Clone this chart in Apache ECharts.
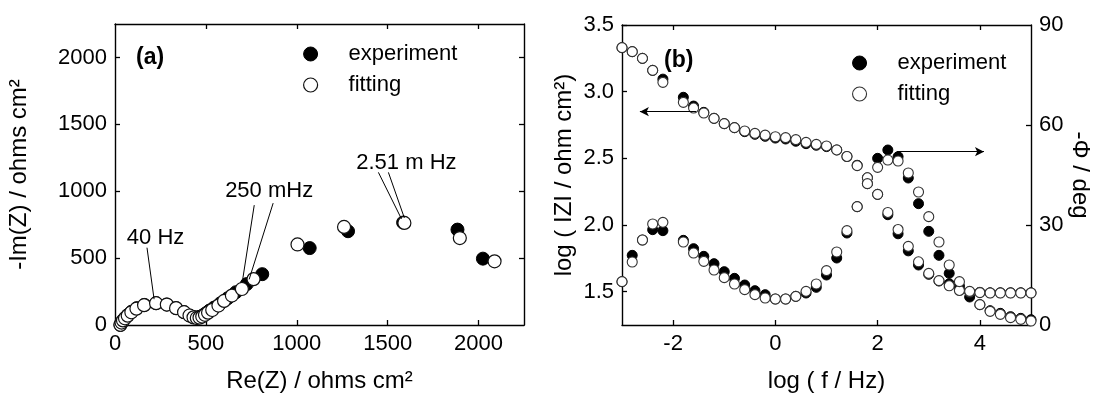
<!DOCTYPE html>
<html><head><meta charset="utf-8">
<script src="https://cdn.jsdelivr.net/npm/echarts@6/dist/echarts.min.js"></script>
<style>html,body{margin:0;padding:0;background:#fff}#c{width:1101px;height:398px}</style>
</head><body><div id="c"></div>
<script>
// ---------- Panel (a): Nyquist ----------
const nyqExperiment = [[30,0],[38,20],[46,38],[57,56],[72,76],[92,100],[120,126],[162,150],[226,163],[285,153],[336,126],[380,96],[410,71],[432,59],[452,57],[468,62],[484,72],[500,88],[520,108],[545,130],[580,162],[620,200],[665,245],[725,306],[810,380],[1071,575],[1282,701],[1585,766],[1884,713],[2024,496]];
const nyqFitting = [[30,2],[36,18],[44,34],[55,50],[70,70],[90,95],[118,122],[160,148],[226,163],[285,153],[336,126],[380,96],[410,71],[432,57],[450,52],[465,55],[480,63],[495,76],[512,92],[535,112],[569,145],[600,180],[643,220],[698,269],[762,343],[1004,602],[1260,733],[1592,763],[1897,650],[2088,476]];
const nyqXTicks = [0,500,1000,1500,2000];
const nyqYTicks = [0,500,1000,1500,2000];
const nyqNotes = [{text:'40 Hz', at:[223,652]},{text:'250 mHz', at:[848,1000]},{text:'2.51 m Hz', at:[1603,1215]}];
const nyqNoteLines = [[[176,578],[215,193]],[[766,896],[700,319]],[[870,911],[738,341]],[[1449,1141],[1576,793]],[[1504,1141],[1592,800]]];

// ---------- Panel (b): Bode ----------
const logF = [-3,-2.8,-2.6,-2.4,-2.2,-1.8,-1.6,-1.4,-1.2,-1.0,-0.8,-0.6,-0.4,-0.2,0,0.2,0.4,0.6,0.8,1.0,1.2,1.4,1.6,1.8,2.0,2.2,2.4,2.6,2.8,3.0,3.2,3.4,3.6,3.8,4.0,4.2,4.4,4.6,4.8,5.0];
const logZFitting = [3.33,3.30,3.25,3.16,3.07,2.92,2.877,2.84,2.80,2.76,2.73,2.705,2.687,2.674,2.662,2.655,2.64,2.62,2.605,2.593,2.563,2.514,2.445,2.354,2.23,2.094,1.966,1.84,1.724,1.637,1.583,1.544,1.509,1.497,1.493,1.49,1.49,1.49,1.49,1.49];
const logZExperiment = [3.33,3.30,3.25,3.16,3.094,2.958,2.892,2.845,2.80,2.76,2.73,2.70,2.68,2.665,2.652,2.645,2.628,2.61,2.598,2.588,2.563,2.514,2.448,2.354,2.23,2.077,1.934,1.806,1.70,1.63,1.58,1.559,1.515,1.50,1.495,1.492,1.492,1.492,1.492,1.492];
const phaseFitting = [13.0,18.9,25.5,30.3,30.8,24.9,21.6,19.1,16.5,14.2,12.3,10.6,9.1,8.1,7.8,7.8,8.6,10.1,12.3,16.3,21.9,28.3,35.5,42.4,47.3,49.5,49.2,45.6,39.9,32.5,24.9,18.0,13.0,10.1,6.1,4.1,3.2,2.2,1.7,1.2];
const phaseExperiment = [13.0,20.9,25.5,28.6,28.3,25.4,22.9,20.6,18.4,16.0,14.0,12.0,10.3,9.1,7.8,7.8,8.6,9.6,11.3,15.0,20.1,27.6,35.5,42.4,50.0,52.5,50.5,44.1,36.4,28.1,20.9,15.5,11.7,8.4,6.1,4.3,3.5,2.5,2.0,1.6];
const bodeXTicks = [-2,0,2,4];
const bodeZTicks = [1.5,2.0,2.5,3.0,3.5];
const bodePhaseTicks = [0,30,60,90];
const bodeArrows = [[[-1.55,2.85],[-2.65,2.85]],[[2.38,2.55],[4.08,2.55]]];

const FONT = 'Liberation Sans, Arial, sans-serif';
const INK = '#000';

function axisBase(extra) {
  return Object.assign({
    type: 'value',
    axisLine: {show: true, onZero: false, lineStyle: {color: INK, width: 1.4}},
    splitLine: {show: false},
    axisLabel: {color: INK, fontSize: 22, fontFamily: FONT, margin: 8},
    nameTextStyle: {color: INK, fontSize: 24, fontFamily: FONT},
    nameLocation: 'middle'
  }, extra);
}
function ticks(vals, inside) {
  return {show: true, inside: inside !== false, length: 5, customValues: vals, lineStyle: {color: INK, width: 1.3}};
}
function labels(vals, fmt, extra) {
  return Object.assign({show: true, customValues: vals, color: INK, fontSize: 22, fontFamily: FONT, margin: 8, formatter: fmt}, extra || {});
}

const openStyle = {color: '#fff', borderColor: '#111', borderWidth: 1.2, opacity: 1};
const openStyleB = {color: '#fff', borderColor: '#333', borderWidth: 1.1, opacity: 1};
const fillStyle = {color: '#000', borderColor: '#000', borderWidth: 1, opacity: 1};

const chart = echarts.init(document.getElementById('c'), null, {renderer: 'canvas'});
chart.setOption({
  animation: false,
  backgroundColor: '#fff',
  textStyle: {fontFamily: FONT},
  grid: [
    {left: 115, top: 24, width: 409, height: 304},
    {left: 622, top: 25, width: 409, height: 304}
  ],
  xAxis: [
    axisBase({gridIndex: 0, position: 'bottom', min: 0, max: 2250,
      axisTick: ticks([500,1000,1500,2000]), axisLabel: labels(nyqXTicks, v => String(v)),
      name: 'Re(Z) / ohms cm²', nameGap: 44}),
    axisBase({gridIndex: 0, position: 'top', min: 0, max: 2250,
      axisTick: ticks([500,1000,1500,2000]), axisLabel: {show: false}}),
    axisBase({gridIndex: 1, position: 'bottom', min: -3, max: 5,
      axisTick: ticks(bodeXTicks), axisLabel: labels(bodeXTicks, v => String(v)),
      name: 'log ( f / Hz)', nameGap: 44}),
    axisBase({gridIndex: 1, position: 'top', min: -3, max: 5,
      axisTick: ticks(bodeXTicks), axisLabel: {show: false}})
  ],
  yAxis: [
    axisBase({gridIndex: 0, position: 'left', min: 0, max: 2250,
      axisTick: ticks([500,1000,1500,2000]), axisLabel: labels(nyqYTicks, v => String(v)),
      name: '-Im(Z) / ohms cm²', nameGap: 84}),
    axisBase({gridIndex: 0, position: 'right', min: 0, max: 2250,
      axisTick: ticks([500,1000,1500,2000]), axisLabel: {show: false}}),
    axisBase({gridIndex: 1, position: 'left', min: 1.25, max: 3.5,
      axisTick: ticks(bodeZTicks), axisLabel: labels(bodeZTicks, v => v.toFixed(1)),
      name: 'log ( IZI / ohm cm²)', nameGap: 46}),
    axisBase({gridIndex: 1, position: 'right', min: 0, max: 90,
      axisTick: ticks([30,60]), axisLabel: labels(bodePhaseTicks, v => String(v)),
      name: '-Φ / deg', nameGap: 34, nameRotate: -90})
  ],
  legend: [
    {left: 298, top: 38, orient: 'vertical', itemWidth: 14, itemHeight: 14, itemGap: 9,
     icon: 'circle', selectedMode: false,
     textStyle: {color: INK, fontSize: 22, fontFamily: FONT, padding: [0,0,0,26], lineHeight: 22},
     data: [{name: 'experiment', itemStyle: fillStyle}, {name: 'fitting', itemStyle: openStyle}]},
    {left: 847, top: 47, orient: 'vertical', itemWidth: 14, itemHeight: 14, itemGap: 9,
     icon: 'circle', selectedMode: false,
     textStyle: {color: INK, fontSize: 22, fontFamily: FONT, padding: [0,0,0,26], lineHeight: 22},
     data: [{name: 'experiment', itemStyle: fillStyle}, {name: 'fitting', itemStyle: openStyleB}]}
  ],
  graphic: [
    {type: 'text', left: 136, top: 46, style: {text: '(a)', font: 'bold 23px ' + FONT, fill: INK}},
    {type: 'text', left: 664, top: 49, style: {text: '(b)', font: 'bold 23px ' + FONT, fill: INK}}
  ],
  series: [
    {name: 'experiment', type: 'scatter', xAxisIndex: 0, yAxisIndex: 0, symbol: 'circle', symbolSize: 13,
     itemStyle: fillStyle, data: nyqExperiment},
    {name: 'fitting', type: 'scatter', xAxisIndex: 0, yAxisIndex: 0, symbol: 'circle', symbolSize: 13,
     itemStyle: openStyle, data: nyqFitting},
    {name: 'notes', type: 'scatter', xAxisIndex: 0, yAxisIndex: 0, symbolSize: 0, silent: true,
     itemStyle: {opacity: 1},
     data: nyqNotes.map(n => ({value: n.at, label: {show: true, position: 'inside', formatter: n.text,
       color: INK, opacity: 1, fontSize: 22, fontFamily: FONT}})),
     markLine: {silent: true, symbol: ['none','none'], label: {show: false},
       lineStyle: {color: INK, width: 1, type: 'solid', opacity: 1},
       data: nyqNoteLines.map(l => [{coord: l[0]}, {coord: l[1]}])}},
    {name: 'experiment', type: 'scatter', xAxisIndex: 2, yAxisIndex: 2, symbol: 'circle', symbolSize: 10,
     itemStyle: fillStyle, data: logF.map((f, i) => [f, logZExperiment[i]]),
     markLine: {silent: true, symbol: ['none','arrow'], symbolSize: [7, 9], label: {show: false},
       lineStyle: {color: INK, width: 1.2, type: 'solid', opacity: 1},
       data: bodeArrows.map(a => [{coord: a[0]}, {coord: a[1]}])}},
    {name: 'experiment', type: 'scatter', xAxisIndex: 2, yAxisIndex: 3, symbol: 'circle', symbolSize: 10,
     itemStyle: fillStyle, data: logF.map((f, i) => [f, phaseExperiment[i]])},
    {name: 'fitting', type: 'scatter', xAxisIndex: 2, yAxisIndex: 2, symbol: 'circle', symbolSize: 10,
     itemStyle: openStyleB, data: logF.map((f, i) => [f, logZFitting[i]])},
    {name: 'fitting', type: 'scatter', xAxisIndex: 2, yAxisIndex: 3, symbol: 'circle', symbolSize: 10,
     itemStyle: openStyleB, data: logF.map((f, i) => [f, phaseFitting[i]])}
  ]
});
</script></body></html>
